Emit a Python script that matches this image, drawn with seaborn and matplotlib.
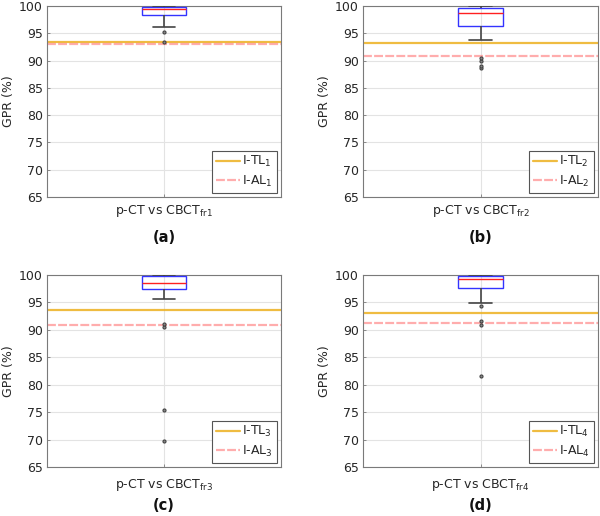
import numpy as np
import pandas as pd
import matplotlib
matplotlib.use("Agg")
import matplotlib.pyplot as plt
import seaborn as sns

# ---- data (GPR %) ----
gpr_fr1 = [93.4, 95.2, 96.1, 98.3, 98.8, 99.1, 99.4, 99.6, 99.8, 99.9, 100.0, 100.0, 100.0]
gpr_fr2 = [88.6, 89.0, 89.9, 90.4, 93.7, 96.3, 96.9, 97.5, 98.0, 98.4, 98.8,
           99.0, 99.2, 99.3, 99.5, 99.6, 99.7, 99.8, 99.9, 100.0, 100.0]
gpr_fr3 = [69.7, 75.4, 90.5, 91.1, 95.6, 97.4, 97.7, 97.9, 98.1, 98.3, 98.5,
           98.8, 99.1, 99.4, 99.6, 99.8, 99.9, 99.9, 100.0, 100.0, 100.0]
gpr_fr4 = [81.5, 90.8, 91.7, 94.35, 94.9, 97.7, 98.2, 98.6, 98.9, 99.1, 99.2,
           99.3, 99.5, 99.6, 99.7, 99.8, 99.9, 99.9, 100.0, 100.0, 100.0]
series = [gpr_fr1, gpr_fr2, gpr_fr3, gpr_fr4]

tl_values = [93.35, 93.2, 93.55, 93.0]   # I-TL
al_values = [93.1, 90.9, 90.95, 91.25]   # I-AL
xtick_labels = [r"p-CT vs CBCT$_{\mathrm{fr1}}$", r"p-CT vs CBCT$_{\mathrm{fr2}}$",
                r"p-CT vs CBCT$_{\mathrm{fr3}}$", r"p-CT vs CBCT$_{\mathrm{fr4}}$"]
tl_labels = [r"I-TL$_{1}$", r"I-TL$_{2}$", r"I-TL$_{3}$", r"I-TL$_{4}$"]
al_labels = [r"I-AL$_{1}$", r"I-AL$_{2}$", r"I-AL$_{3}$", r"I-AL$_{4}$"]
panel_labels = ["(a)", "(b)", "(c)", "(d)"]
yticks = [65, 70, 75, 80, 85, 90, 95, 100]

sns.set_theme(style="white")
plt.rcParams["font.family"] = ["DejaVu Sans"]
plt.rcParams["mathtext.fontset"] = "dejavusans"

fig = plt.figure(figsize=(6.0, 5.16), dpi=100)
W, H = 600, 516
boxes = [(47, 6, 281, 197), (363, 6, 598, 197), (47, 275, 281, 467), (363, 275, 598, 467)]
label_y = [238, 238, 506, 506]
xpads = [4, 4, 7.5, 7.5]

FS = 9
for i in range(4):
    l, t, r, b = boxes[i]
    ax = fig.add_axes([l / W, 1 - b / H, (r - l) / W, (b - t) / H])
    df = pd.DataFrame({"GPR": series[i], "grp": xtick_labels[i]})
    sns.boxplot(data=df, x="grp", y="GPR", ax=ax, width=0.19, whis=1.5,
                linewidth=1.0,
                boxprops=dict(facecolor="none", edgecolor="#3333ff", linewidth=1.0, zorder=3),
                medianprops=dict(color="#ff2020", linewidth=1.0, zorder=4),
                whiskerprops=dict(color="#444444", linewidth=1.2, zorder=3),
                capprops=dict(color="#444444", linewidth=1.2, zorder=3),
                flierprops=dict(marker="o", markersize=2.2, markerfacecolor="#888888",
                                markeredgecolor="#444444", markeredgewidth=0.8, zorder=4))
    ax.axhline(tl_values[i], color="#EDB120", lw=1.6, alpha=0.85, label=tl_labels[i], zorder=2)
    ax.axhline(al_values[i], color="#ff6b6b", lw=1.6, alpha=0.55, ls=(0, (4, 1.0)),
               label=al_labels[i], zorder=2)
    ax.set_ylim(65, 100)
    ax.set_xlim(-0.5, 0.5)
    ax.set_yticks(yticks)
    ax.set_yticklabels([str(v) for v in yticks], fontsize=FS, color="#262626")
    ax.set_xticks([0])
    ax.set_xticklabels([xtick_labels[i]], fontsize=FS, color="#262626")
    ax.set_xlabel("")
    ax.set_ylabel("GPR (%)", fontsize=FS, color="#262626", labelpad=3)
    ax.grid(True, color="#e3e3e3", lw=0.8, zorder=0)
    ax.set_axisbelow(True)
    for s in ax.spines.values():
        s.set_color("#7a7a7a")
        s.set_linewidth(0.8)
    ax.tick_params(axis="y", direction="in", length=2.5, width=0.6, color="#7a7a7a", pad=3,
                   left=True)
    ax.tick_params(axis="x", direction="in", length=2.5, width=0.6, color="#7a7a7a",
                   pad=xpads[i], bottom=True)
    leg = ax.legend(loc="lower right", fontsize=FS, frameon=True, fancybox=False,
                    framealpha=1, edgecolor="#555555", handlelength=1.9,
                    borderaxespad=0.35, labelspacing=0.35, handletextpad=0.2,
                    borderpad=0.3)
    leg.get_frame().set_linewidth(0.8)
    fig.text((l + r) / 2 / W, 1 - label_y[i] / H, panel_labels[i], ha="center", va="center",
             fontsize=10.5, fontweight="bold", color="#111111")

fig.savefig("out.png", dpi=100, facecolor="white")
